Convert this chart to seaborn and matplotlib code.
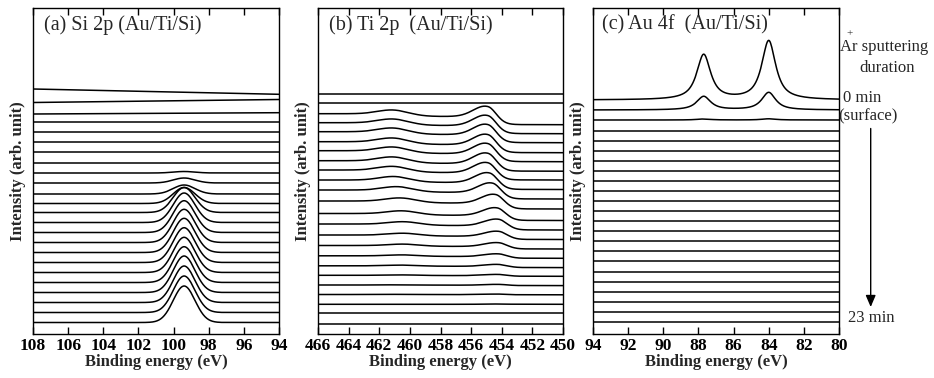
import numpy as np
import pandas as pd
import matplotlib
matplotlib.use("Agg")
import matplotlib.pyplot as plt
import seaborn as sns

# === Values ===
# vertical unit = one pixel above the bottom axis line, curves 0 min (top) ... 23 min (bottom)

# (a) Si 2p: level at 108 eV, drift up to 94 eV, peak height at 99.4 eV
si_offset = [245, 231.5, 220, 212, 202, 192, 182, 171, 161, 151, 140, 130.5,
             121.5, 111.5, 101.5, 91.5, 81.5, 71.5, 61.5, 51.5, 41.5, 31.5, 21.5, 11.5]
si_tilt = [-5.3, 3.0, 1.3] + [0] * 21
si_height = [0, 0, 0, 0, 0, 0, 0, 0, 1.5, 5, 9, 16,
             25, 29.5, 31.8, 33.2, 34.2, 34.8, 35.2, 35.8, 36.5, 36.5, 36.5, 36.5]
si_pos = 99.4

# (b) Ti 2p: level at 466 eV, background step, 2p3/2 and 2p1/2 heights, 2p3/2 position
ti_offset = [239.7, 230.7, 220.3, 211.3, 202.3, 192.3, 183.3, 173.3, 164, 154, 144, 133,
             120.5, 110, 99, 88.5, 78.2, 68.2, 58.7, 49, 39.5, 29.7, 20.7, 10.4]
ti_step = [0, 0, 11, 11, 11, 11, 11, 10.5, 10, 9.5, 9, 8,
           7, 6, 4.5, 3.5, 2.5, 1.8, 1, 0.6, 0.3, 0, 0, 0]
ti_h32 = [0, 0, 14, 14, 14, 14, 14, 14, 13.5, 13, 12.5, 11.5,
          10, 8.5, 6.5, 5, 3.5, 2.5, 1.5, 1, 0.6, 0.3, 0, 0]
ti_h12 = [0, 0, 5, 5, 5, 5, 5, 5, 4.8, 4.6, 4.4, 4,
          3.5, 3, 2.3, 1.8, 1.2, 0.9, 0.5, 0.3, 0.2, 0, 0, 0]
ti_pos32 = [454.9] * 9 + [454.8, 454.6, 454.4, 454.3] + [454.2] * 11
ti_split = 6.1

# (c) Au 4f: level, 4f7/2 and 4f5/2 heights
au_offset = [234, 224, 214, 203.3, 193.3, 183.3, 173.3, 163.3, 153.3, 143.3, 133.3, 123.5,
             113, 103, 93, 83, 73, 62.3, 52.3, 41.7, 31.7, 21.7, 12.3]
au_h72 = [59, 17.5, 1.2] + [0] * 20
au_h52 = [45, 13.5, 1.0] + [0] * 20
au_pos72, au_pos52 = 84.0, 87.7

panel_ranges = [(108, 94), (466, 450), (94, 80)]
panel_titles = ["(a) Si 2p (Au/Ti/Si)", "(b) Ti 2p  (Au/Ti/Si)", "(c) Au 4f  (Au/Ti/Si)"]


def gauss(x, c, w):
    return np.exp(-0.5 * ((x - c) / w) ** 2)


def asym_gauss(x, c, w_hi, w_lo):
    w = np.where(x > c, w_hi, w_lo)
    return np.exp(-0.5 * ((x - c) / w) ** 2)


def pvoigt(x, c, fwhm, eta):
    lor = 1 / (1 + ((x - c) / (fwhm / 2)) ** 2)
    gau = np.exp(-4 * np.log(2) * ((x - c) / fwhm) ** 2)
    return eta * lor + (1 - eta) * gau


def sigm(x, c, w):
    return 1 / (1 + np.exp(-(x - c) / w))


rows = []
e = np.linspace(94, 108, 400)
for i in range(len(si_offset)):
    y = si_offset[i] + si_tilt[i] * (108 - e) / 14 + si_height[i] * gauss(e, si_pos, 0.62)
    rows.append(pd.DataFrame({"panel": 0, "curve": i, "energy": e, "intensity": y}))

e = np.linspace(450, 466, 400)
for i in range(len(ti_offset)):
    c3 = ti_pos32[i]
    c1 = c3 + ti_split
    bg = ti_offset[i] - ti_step[i] + ti_step[i] * (0.75 * sigm(e, c3, 0.5) + 0.25 * sigm(e, c1, 0.6))
    y = bg + ti_h32[i] * asym_gauss(e, c3, 0.85, 0.55) + ti_h12[i] * gauss(e, c1, 1.0)
    rows.append(pd.DataFrame({"panel": 1, "curve": i, "energy": e, "intensity": y}))

e = np.linspace(80, 94, 400)
for i in range(len(au_offset)):
    y = (au_offset[i] + au_h72[i] * pvoigt(e, au_pos72, 0.95, 0.9)
         + au_h52[i] * pvoigt(e, au_pos52, 0.95, 0.9))
    rows.append(pd.DataFrame({"panel": 2, "curve": i, "energy": e, "intensity": y}))

df = pd.concat(rows, ignore_index=True)

# === Style ===
sns.set_theme(style="ticks")
plt.rcParams["font.family"] = ["Liberation Serif", "DejaVu Serif"]
plt.rcParams["axes.linewidth"] = 1.0

W, H = 934, 378
fig = plt.figure(figsize=(W / 100, H / 100), dpi=100)
lefts = [33, 318, 593]
widths = [246, 245, 246]

for k in range(3):
    ax = fig.add_axes([lefts[k] / W, (H - 334) / H, widths[k] / W, 326 / H])
    sub = df[df["panel"] == k]
    sns.lineplot(data=sub, x="energy", y="intensity", units="curve", estimator=None,
                 color="black", lw=1.1, ax=ax, legend=False)
    hi, lo = panel_ranges[k]
    ax.set_xlim(hi, lo)
    ax.set_ylim(0, 326)
    ax.set_xticks(list(range(hi, lo - 1, -2)))
    ax.set_yticks([])
    ax.tick_params(axis="x", direction="in", top=True, length=5, width=1,
                   labelsize=12.5, pad=3, colors="black")
    for t in ax.get_xticklabels():
        t.set_fontweight("bold")
    ax.set_xlabel("Binding energy (eV)", fontsize=12, fontweight="bold", labelpad=0)
    ax.set_ylabel("Intensity (arb. unit)", fontsize=12, fontweight="bold", labelpad=5)
    for s in ax.spines.values():
        s.set_color("black")
        s.set_linewidth(1.0)
    ax.text(0.045 if k < 2 else 0.038, 0.948, panel_titles[k], transform=ax.transAxes,
            fontsize=14.5, ha="left", va="center")


def fx(px):
    return px / W


def fy(py):
    return 1 - py / H


fs = 12
fig.text(fx(840), fy(47), "Ar sputtering", fontsize=fs, ha="left", va="center")
fig.text(fx(849.5), fy(33.5), "+", fontsize=8, ha="center", va="center")
fig.text(fx(886.7), fy(68.5), "duration", fontsize=fs, ha="center", va="center")
fig.text(fx(862.5), fy(98.5), "0 min", fontsize=fs, ha="center", va="center")
fig.text(fx(868), fy(116.7), "(surface)", fontsize=fs, ha="center", va="center")
fig.text(fx(871), fy(318.5), "23 min", fontsize=fs, ha="center", va="center")
fig.patches.append(matplotlib.patches.FancyArrowPatch(
    (fx(870.7), fy(128.5)), (fx(870.7), fy(307)), transform=fig.transFigure,
    arrowstyle="-|>,head_length=7,head_width=3", color="black", lw=1.0,
    shrinkA=0, shrinkB=0))

fig.savefig("out.png", dpi=100)
